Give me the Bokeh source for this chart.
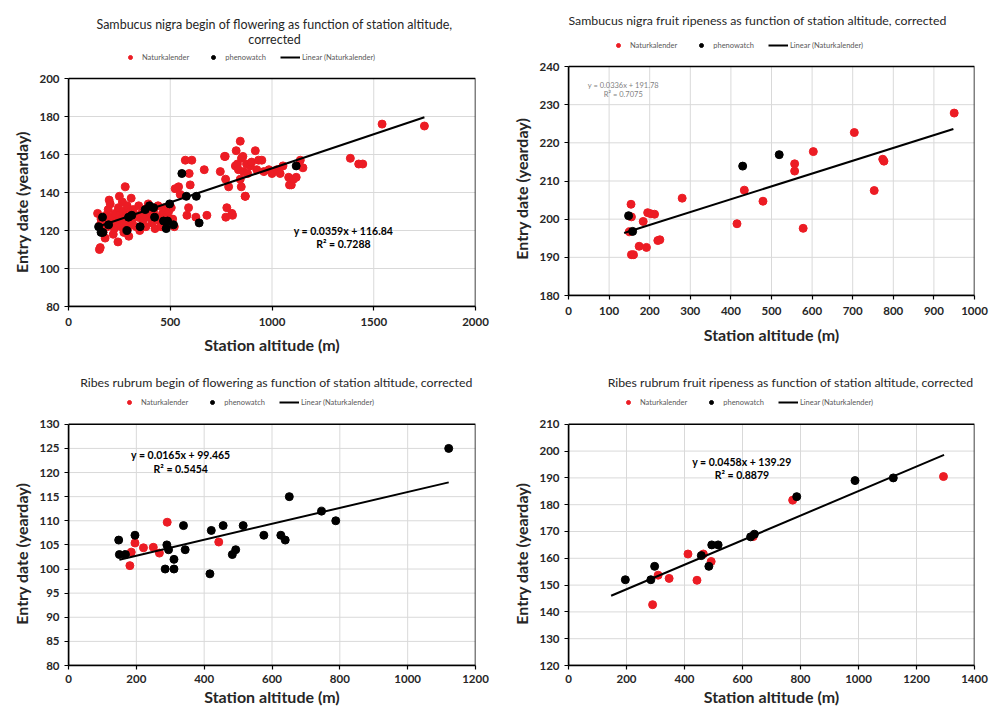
import numpy as np
from bokeh.plotting import figure
from bokeh.models import Range1d, FixedTicker, Legend, LegendItem, Label, BoxAnnotation
from bokeh.layouts import column, row
from bokeh.embed import file_html
from bokeh.resources import INLINE

FONT = "Lato"
RED = "#ec1c24"
BLACK = "#000000"
TXT = "#262626"

# ---------------- data ----------------
# Panel 1: Sambucus nigra begin of flowering
p1_title = ["Sambucus nigra begin of flowering as function of station altitude,", "corrected"]
p1_nk_x = [143, 152, 156, 156, 160, 165, 170, 175, 180, 185, 190, 195, 200, 205, 210, 215, 220, 225, 230, 238,
           243, 245, 250, 252, 258, 262, 265, 268, 272, 276, 279, 283, 288, 292, 296, 300, 305, 308, 312, 318,
           325, 332, 340, 345, 350, 358, 365, 372, 380, 385, 392, 400, 410, 418, 425, 432, 440, 448, 455, 462,
           470, 478, 485, 492, 500, 505, 512, 520,
           524, 541, 549, 574, 582, 590, 593, 598, 606, 626, 667, 680,
           746, 767, 770, 772, 773, 778, 787, 803, 806,
           820, 824, 830, 835, 844, 844, 849, 850, 857, 860, 868, 869, 875, 880, 893, 900, 918, 925, 934, 950,
           960, 985, 1000, 1024, 1040, 1054, 1082, 1086, 1095, 1106, 1119, 1139, 1152,
           1385, 1426, 1446, 1541, 1749]
p1_nk_y = [129, 110, 123, 111, 126, 121, 119, 125, 116, 128, 122, 131, 136, 134, 127, 124, 118, 121, 129, 125,
           114, 132, 138, 128, 122, 126, 135, 130, 119, 123, 143, 128, 133, 121, 117, 126, 130, 137, 124, 131,
           128, 122, 127, 133, 120, 129, 125, 131, 122, 127, 134, 129, 124, 130, 121, 127, 133, 125, 122, 129,
           132, 127, 124, 130, 126, 132, 126, 122,
           142, 143, 139, 157, 128, 132, 150, 144, 157, 127, 152, 128,
           151, 159, 159, 147, 127, 132, 143, 129, 128,
           154, 162, 155, 152, 167, 147, 143, 158, 159, 151, 138, 138, 155, 150, 154, 156, 162, 152, 157, 157,
           151, 152, 150, 152, 150, 154, 148, 144, 144, 147, 148, 157, 153,
           158, 155, 155, 176, 175]
p1_pw_x = [148, 160, 167, 169, 197, 287, 295, 311, 352, 377, 398, 418, 423, 467, 480, 487, 497, 516, 557, 579,
           628, 642, 1119]
p1_pw_y = [122, 119, 127, 119, 123, 120, 127, 128, 122, 131, 133, 132, 127, 125, 121, 125, 134, 123, 150, 138,
           138, 124, 154]
p1_xticks = [0, 500, 1000, 1500, 2000]
p1_yticks = [80, 100, 120, 140, 160, 180, 200]
p1_fit = (0.0359, 116.84)
p1_fit_span = (150, 1749)
p1_eq = ["y = 0.0359x + 116.84", "R\u00b2 = 0.7288"]

# Panel 2: Sambucus nigra fruit ripeness
p2_title = ["Sambucus nigra fruit ripeness as function of station altitude, corrected"]
p2_nk_x = [154, 155, 150, 155, 160, 174, 184, 192, 195, 203, 212, 220, 225, 280, 415, 433, 479, 557, 557, 578,
           603, 704, 753, 774, 777, 950]
p2_nk_y = [203.9, 200.6, 196.7, 190.7, 190.7, 192.9, 199.4, 192.6, 201.7, 201.4, 201.3, 194.4, 194.6, 205.5,
           198.8, 207.6, 204.7, 214.5, 212.6, 197.6, 217.7, 222.7, 207.5, 215.7, 215.2, 227.8]
p2_pw_x = [148, 158, 429, 519]
p2_pw_y = [200.9, 196.8, 213.9, 216.9]
p2_xticks = [0, 100, 200, 300, 400, 500, 600, 700, 800, 900, 1000]
p2_yticks = [180, 190, 200, 210, 220, 230, 240]
p2_fit = (0.0336, 191.78)
p2_fit_span = (137, 948)
p2_eq = ["y = 0.0336x + 191.78", "R\u00b2 = 0.7075"]

# Panel 3: Ribes rubrum begin of flowering
p3_title = ["Ribes rubrum begin of flowering as function of station altitude, corrected"]
p3_nk_x = [181, 185, 196, 221, 250, 268, 291, 443]
p3_nk_y = [100.7, 103.5, 105.4, 104.4, 104.5, 103.3, 109.7, 105.6]
p3_pw_x = [148, 150, 168, 196, 285, 290, 295, 311, 311, 339, 344, 417, 421, 456, 483, 493, 515, 576, 626, 639,
           651, 746, 788, 1121]
p3_pw_y = [106, 103, 103, 107, 100, 105, 104, 100, 102, 109, 104, 99, 108, 109, 103, 104, 109, 107, 107, 106,
           115, 112, 110, 125]
p3_xticks = [0, 200, 400, 600, 800, 1000, 1200]
p3_yticks = [80, 85, 90, 95, 100, 105, 110, 115, 120, 125, 130]
p3_fit = (0.0165, 99.465)
p3_fit_span = (150, 1121)
p3_eq = ["y = 0.0165x + 99.465", "R\u00b2 = 0.5454"]

# Panel 4: Ribes rubrum fruit ripeness
p4_title = ["Ribes rubrum fruit ripeness as function of station altitude, corrected"]
p4_nk_x = [290, 309, 347, 412, 443, 465, 492, 637, 773, 1293]
p4_nk_y = [142.7, 153.7, 152.5, 161.6, 151.8, 161.6, 158.8, 168.1, 181.7, 190.5]
p4_pw_x = [196, 284, 297, 458, 484, 494, 516, 628, 641, 787, 988, 1120]
p4_pw_y = [152, 152, 157, 161, 157, 165, 165, 168, 169, 183, 189, 190]
p4_xticks = [0, 200, 400, 600, 800, 1000, 1200, 1400]
p4_yticks = [120, 130, 140, 150, 160, 170, 180, 190, 200, 210]
p4_fit = (0.0458, 139.29)
p4_fit_span = (147, 1295)
p4_eq = ["y = 0.0458x + 139.29", "R\u00b2 = 0.8879"]

legend_labels = ["Naturkalender", "phenowatch", "Linear (Naturkalender)"]
x_title = "Station altitude (m)"
y_title = "Entry date (yearday)"

NBSP_W = 3.1  # approx. width of a no-break space in the 16px bold axis-title font


def make_panel(title_lines, nk_x, nk_y, pw_x, pw_y, xticks, yticks, fit, span, eq,
               size, left, right, bottom, box_top, title_pos, legend_pos, eq_pos, eq_style,
               label_standoffs, title_size="12.3px"):
    """The plot frame spans from the figure top down to the x axis; the chart box
    occupies its lower part (box_top px below the figure top) and the titles and
    legend sit in the free strip above it."""
    w, h = size
    frame_h = h - bottom
    box_h = frame_h - box_top
    y0, y1 = yticks[0], yticks[-1]
    y_top = y0 + (y1 - y0) * frame_h / box_h
    p = figure(width=w, height=h,
               x_range=Range1d(xticks[0], xticks[-1]), y_range=Range1d(y0, y_top),
               output_backend="svg", toolbar_location=None,
               min_border_left=left, min_border_right=right, min_border_top=0, min_border_bottom=bottom)
    p.background_fill_color = "white"
    p.border_fill_color = "white"
    p.outline_line_color = None
    p.xgrid.visible = False
    p.ygrid.visible = False

    # grid lines inside the chart box only
    gx = list(xticks[1:-1])
    gy = list(yticks[1:-1])
    p.segment(x0=gx, y0=[y0] * len(gx), x1=gx, y1=[y1] * len(gx), line_color="#d9d9d9", line_width=1)
    p.segment(x0=[xticks[0]] * len(gy), y0=gy, x1=[xticks[-1]] * len(gy), y1=gy,
              line_color="#d9d9d9", line_width=1)

    r_nk = p.scatter(nk_x, nk_y, size=8, fill_color=RED, line_color=RED)
    r_pw = p.scatter(pw_x, pw_y, size=8, fill_color=BLACK, line_color=BLACK)
    tx = np.array(span, dtype=float)
    r_ln = p.line(tx, fit[0] * tx + fit[1], line_color="black", line_width=2)

    # chart box border
    p.add_layout(BoxAnnotation(left=xticks[0], right=xticks[-1], bottom=y0, top=y1,
                               fill_alpha=0, line_color="black", line_width=1.5, line_alpha=1))

    p.xaxis.ticker = FixedTicker(ticks=xticks)
    p.yaxis.ticker = FixedTicker(ticks=yticks)
    p.yaxis.bounds = (y0, y1)

    for ax in (p.xaxis[0], p.yaxis[0]):
        ax.axis_line_color = "black"
        ax.axis_line_width = 1.5
        ax.major_tick_line_color = "black"
        ax.major_tick_line_width = 1.2
        ax.major_tick_in = 0
        ax.major_tick_out = 4
        ax.minor_tick_line_color = None
        ax.major_label_text_font = FONT
        ax.major_label_text_font_style = "bold"
        ax.major_label_text_font_size = "11.5px"
        ax.major_label_text_color = TXT
        ax.axis_label_text_font = FONT
        ax.axis_label_text_font_style = "bold"
        ax.axis_label_text_font_size = "16px"
        ax.axis_label_text_color = TXT
    p.xaxis.axis_label = x_title
    # the axis title is centred on the whole frame; pad its upper end so that the
    # visible words sit centred on the chart box
    pad = int(round(box_top / NBSP_W))
    p.yaxis.axis_label = y_title + "\u00a0" * pad
    p.yaxis.major_label_standoff = 5
    p.yaxis.axis_label_standoff = 5
    p.xaxis.major_label_standoff = label_standoffs[0]
    p.xaxis.axis_label_standoff = label_standoffs[1]

    # equation text (data units)
    (ex, ey1, ey2) = eq_pos
    for txt, yy in zip(eq, (ey1, ey2)):
        p.add_layout(Label(x=ex, y=yy, text=txt, text_align="center", text_baseline="middle",
                           text_font=FONT, **eq_style))

    # titles: screen px, measured up from the x axis
    tx0, tys = title_pos
    for txt, ty in zip(title_lines, tys):
        p.add_layout(Label(x=tx0, y=ty, x_units="screen", y_units="screen", text=txt,
                           text_align="center", text_baseline="middle", text_font=FONT,
                           text_font_size=title_size, text_color=TXT))

    legend = Legend(items=[LegendItem(label=legend_labels[0], renderers=[r_nk]),
                           LegendItem(label=legend_labels[1], renderers=[r_pw]),
                           LegendItem(label=legend_labels[2], renderers=[r_ln])],
                    orientation="horizontal", location=legend_pos, margin=0, padding=0,
                    spacing=14, glyph_width=20, glyph_height=10, label_height=10, label_standoff=2,
                    label_text_font=FONT, label_text_font_size="7.5px", label_text_color="#595959",
                    border_line_color=None, background_fill_alpha=0)
    p.add_layout(legend, "center")
    return p


bold_eq = dict(text_font_size="10.5px", text_font_style="bold", text_color="black")
gray_eq = dict(text_font_size="7.5px", text_font_style="normal", text_color="#7f7f7f")

p1 = make_panel(p1_title, p1_nk_x, p1_nk_y, p1_pw_x, p1_pw_y, p1_xticks, p1_yticks, p1_fit, p1_fit_span, p1_eq,
                size=(504, 360), left=68, right=29, bottom=54, box_top=78,
                title_pos=(206, (282, 267)), legend_pos=(52, 244),
                eq_pos=(1351, 119.6, 113.0), eq_style=bold_eq, label_standoffs=(7, 6), title_size="12.5px")
p2 = make_panel(p2_title, p2_nk_x, p2_nk_y, p2_pw_x, p2_pw_y, p2_xticks, p2_yticks, p2_fit, p2_fit_span, p2_eq,
                size=(503, 360), left=64, right=32, bottom=65, box_top=66,
                title_pos=(189, (275,)), legend_pos=(40, 245),
                eq_pos=(135, 235.0, 232.6), eq_style=gray_eq, label_standoffs=(7, 7))
p3 = make_panel(p3_title, p3_nk_x, p3_nk_y, p3_pw_x, p3_pw_y, p3_xticks, p3_yticks, p3_fit, p3_fit_span, p3_eq,
                size=(504, 348), left=68, right=29, bottom=42, box_top=64,
                title_pos=(208, (283,)), legend_pos=(51, 258),
                eq_pos=(331, 123.7, 120.8), eq_style=bold_eq, label_standoffs=(5, 1))
p4 = make_panel(p4_title, p4_nk_x, p4_nk_y, p4_pw_x, p4_pw_y, p4_xticks, p4_yticks, p4_fit, p4_fit_span, p4_eq,
                size=(503, 348), left=63, right=33, bottom=42, box_top=64,
                title_pos=(222, (283,)), legend_pos=(50, 258),
                eq_pos=(598, 196.0, 191.0), eq_style=bold_eq, label_standoffs=(5, 1))

layout = row(column(p1, p3), column(p2, p4))
open("out.html", "w").write(file_html(layout, INLINE))
